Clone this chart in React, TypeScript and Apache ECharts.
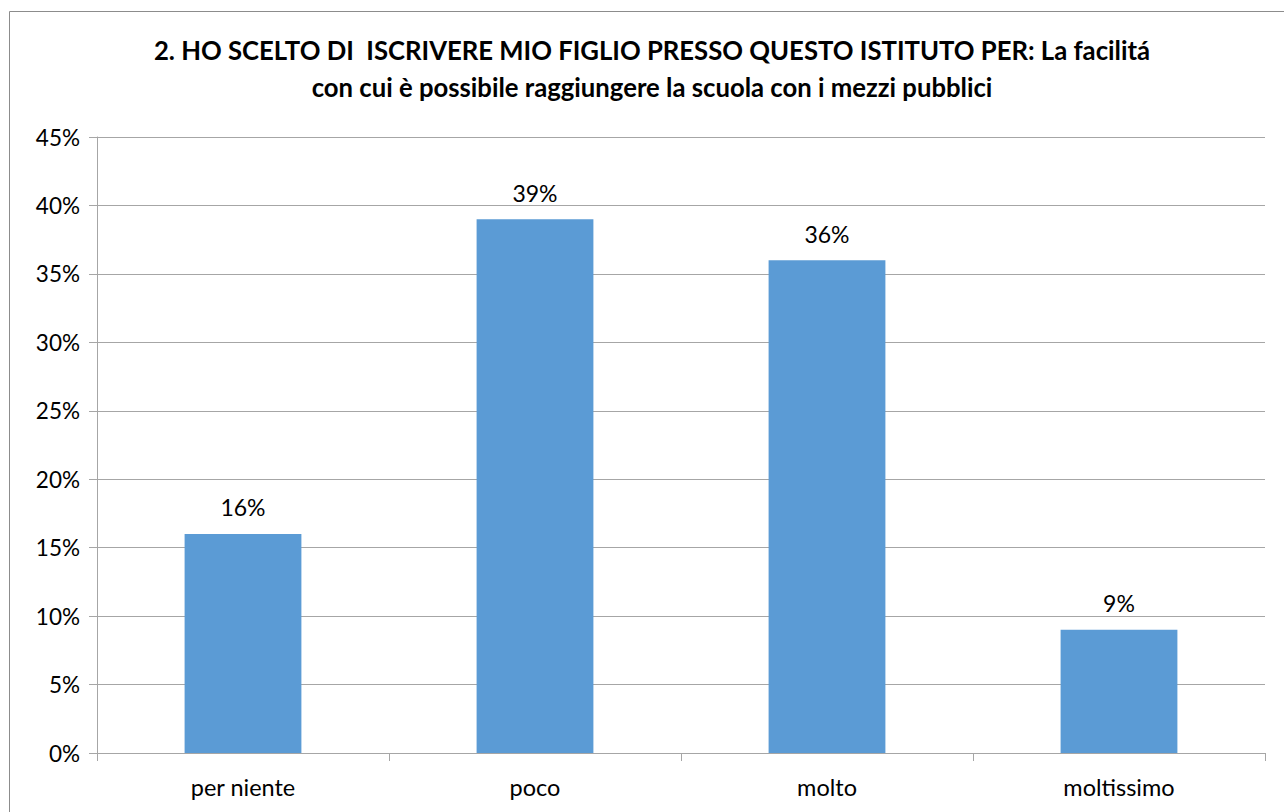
import React, { useEffect, useRef } from "react";
import * as echarts from "echarts";

const titleLines = [
  "2. HO SCELTO DI  ISCRIVERE MIO FIGLIO PRESSO QUESTO ISTITUTO PER: La facilitá",
  "con cui è possibile raggiungere la scuola con i mezzi pubblici",
];
const categories = ["per niente", "poco", "molto", "moltissimo"];
const values = [16, 39, 36, 9];
const yMin = 0;
const yMax = 45;
const yStep = 5;

const FONT = "Lato, 'Open Sans', sans-serif";

export default function App() {
  const ref = useRef<HTMLDivElement>(null);
  useEffect(() => {
    if (!ref.current) return;
    const chart = echarts.init(ref.current, undefined, { renderer: "svg" });
    chart.setOption({
      animation: false,
      backgroundColor: "#ffffff",
      textStyle: { fontFamily: FONT },
      graphic: [
        {
          type: "rect",
          shape: { x: 9.5, y: 11.5, width: 1300, height: 830 },
          style: { fill: "none", stroke: "#8c8c8c", lineWidth: 1 },
          silent: true,
        },
        {
          type: "text",
          x: 652,
          y: 68,
          style: {
            text: titleLines.join("\n"),
            fontFamily: FONT,
            fontWeight: "bold",
            fontSize: 25.7,
            lineHeight: 37,
            fill: "#000000",
            align: "center",
            verticalAlign: "middle",
          },
        },
      ],
      grid: { left: 97, right: 19, top: 137, bottom: 59, containLabel: false },
      xAxis: {
        type: "category",
        data: categories,
        boundaryGap: true,
        axisLine: { show: true, lineStyle: { color: "#a6a6a6", width: 1 } },
        axisTick: { show: true, length: 8, alignWithLabel: false, lineStyle: { color: "#a6a6a6" } },
        axisLabel: { color: "#000000", fontSize: 23.5, fontFamily: FONT, margin: 22 },
      },
      yAxis: {
        type: "value",
        min: yMin,
        max: yMax,
        interval: yStep,
        axisLine: { show: true, lineStyle: { color: "#a6a6a6", width: 1 } },
        axisTick: { show: true, length: 8, lineStyle: { color: "#a6a6a6" } },
        axisLabel: { color: "#000000", fontSize: 22.5, fontFamily: FONT, margin: 17, formatter: "{value}%" },
        splitLine: { show: true, lineStyle: { color: "#a6a6a6", width: 1 } },
      },
      series: [
        {
          type: "bar",
          data: values,
          barCategoryGap: "60%",
          itemStyle: { color: "#5b9bd5" },
          label: {
            show: true,
            position: "top",
            distance: 15,
            formatter: "{c}%",
            color: "#000000",
            fontSize: 23,
            fontFamily: FONT,
          },
        },
      ],
    });
    return () => chart.dispose();
  }, []);
  return (
    <div
      ref={ref}
      style={{ position: "absolute", left: 0, top: 0, width: 1284, height: 812 }}
    />
  );
}
